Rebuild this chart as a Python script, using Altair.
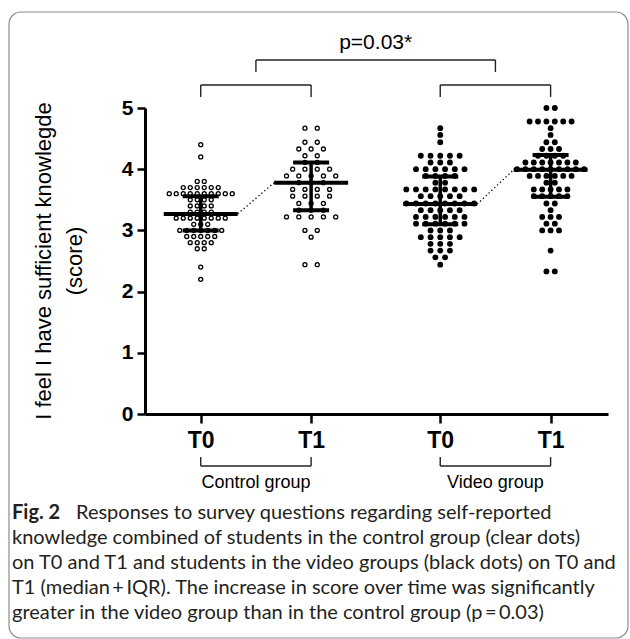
import altair as alt
import pandas as pd

# ---------------- data ----------------
GROUPS = ["Control group", "Video group"]
TIMES = ["T0", "T1"]

CTRL_T0_SCORES = [4.4, 4.2, 3.8, 3.7, 3.6, 3.5, 3.4, 3.3, 3.2, 3.1, 3.0, 2.9, 2.8, 2.7, 2.4, 2.2]
CTRL_T0_COUNTS = [1, 1, 2, 6, 10, 4, 4, 4, 8, 3, 7, 5, 4, 2, 1, 1]

CTRL_T1_SCORES = [4.67, 4.44, 4.33, 4.22, 4.11, 4.0, 3.89, 3.78, 3.67, 3.56, 3.44, 3.33, 3.22, 3.0, 2.89, 2.44]
CTRL_T1_COUNTS = [2, 2, 3, 2, 2, 4, 5, 3, 4, 4, 3, 3, 5, 2, 1, 2]

VIDEO_T0_SCORES = [4.67, 4.56, 4.44, 4.22, 4.11, 4.0, 3.89, 3.78, 3.67, 3.56, 3.44, 3.33, 3.22, 3.11,
                   3.0, 2.89, 2.78, 2.67, 2.56, 2.44]
VIDEO_T0_COUNTS = [1, 1, 1, 5, 3, 6, 4, 2, 8, 5, 8, 5, 6, 6, 3, 5, 3, 3, 2, 1]

VIDEO_T1_SCORES = [5.0, 4.78, 4.67, 4.56, 4.44, 4.33, 4.22, 4.11, 4.0, 3.89, 3.78, 3.67, 3.56, 3.44,
                   3.33, 3.22, 3.11, 3.0, 2.67, 2.33]
VIDEO_T1_COUNTS = [2, 6, 1, 1, 2, 3, 4, 7, 9, 6, 2, 5, 5, 2, 1, 3, 2, 3, 1, 2]

MEDIANS = [3.27, 3.78, 3.43, 3.99]
Q1 = [3.0, 3.33, 3.1, 3.55]
Q3 = [3.56, 4.11, 3.88, 4.23]

Y_TICKS = [0, 1, 2, 3, 4, 5]
Y_TITLE = ["I feel I have sufficient knowlegde", "(score)"]
P_LABEL = "p=0.03*"
FIG_LABEL = "Fig. 2"
CAPTION_LINES = [
    "Responses to survey questions regarding self-reported",
    "knowledge combined of students in the control group (clear dots)",
    "on T0 and T1 and students in the video groups (black dots) on T0 and",
    "T1 (median\u2009+\u2009IQR). The increase in score over time was significantly",
    "greater in the video group than in the control group (p\u2009=\u20090.03)",
]

SCORES = [CTRL_T0_SCORES, CTRL_T1_SCORES, VIDEO_T0_SCORES, VIDEO_T1_SCORES]
COUNTS = [CTRL_T0_COUNTS, CTRL_T1_COUNTS, VIDEO_T0_COUNTS, VIDEO_T1_COUNTS]

# ---------------- layout / style ----------------
CW, CH = 630, 639
LEFT, TOP = 145, 108
W, H = 463, 306
X_MIN, X_MAX = -0.505, 3.69
GROUP_STEP = 2.17
PX = W / (X_MAX - X_MIN)
COL_SPACING_PX = [7.0, 12.3, 9.7, 8.4]
MED_HALF = 37 / PX
IQR_HALF = 18 / PX
FONT = "Liberation Sans"
CAP_FONT = "Lato"
CAP_SIZE = 20

XS = alt.Scale(domain=[X_MIN, X_MAX], nice=False, zero=False)
YS = alt.Scale(domain=[0, 5], nice=False)


def pos(k):
    g, t = divmod(k, 2)
    return g * GROUP_STEP + t


TICK_POS = [pos(k) for k in range(4)]
label_expr = " : ".join(
    f"datum.value < {TICK_POS[k] + 0.5:.3f} ? '{TIMES[k % 2]}'" for k in range(3)
) + f" : '{TIMES[1]}'"

# point table with a simple centred-row dot layout
rows = []
for k in range(4):
    g, t = divmod(k, 2)
    sp = COL_SPACING_PX[k] / PX
    for s, n in zip(SCORES[k], COUNTS[k]):
        for i in range(n):
            rows.append(dict(group=GROUPS[g], time=TIMES[t], score=s,
                             x=pos(k) + (i - (n - 1) / 2) * sp))
pts = pd.DataFrame(rows)

summ = pd.DataFrame(dict(
    pos=TICK_POS, med=MEDIANS, q1=Q1, q3=Q3,
    med_lo=[p - MED_HALF for p in TICK_POS], med_hi=[p + MED_HALF for p in TICK_POS],
    iqr_lo=[p - IQR_HALF for p in TICK_POS], iqr_hi=[p + IQR_HALF for p in TICK_POS],
))

conn = pd.DataFrame(dict(
    x0=[pos(0) + MED_HALF, pos(2) + MED_HALF], x1=[pos(1) - MED_HALF, pos(3) - MED_HALF],
    y0=[MEDIANS[0], MEDIANS[2]], y1=[MEDIANS[1], MEDIANS[3]],
))

grp = pd.DataFrame(dict(group=GROUPS, a=[pos(0), pos(2)], b=[pos(1), pos(3)],
                        mid=[(pos(0) + pos(1)) / 2, (pos(2) + pos(3)) / 2]))
big = pd.DataFrame(dict(a=[grp.mid[0]], b=[grp.mid[1]], mid=[(grp.mid[0] + grp.mid[1]) / 2],
                        label=[P_LABEL]))

x_axis = alt.Axis(values=TICK_POS, labelExpr=label_expr, title=None, grid=False,
                  domainWidth=3, domainColor="black", tickSize=9, tickWidth=2.5, tickColor="black",
                  labelFont=FONT, labelFontWeight="bold", labelFontSize=23, labelColor="black",
                  labelPadding=6, labelFlush=False)
y_axis = alt.Axis(values=Y_TICKS, format="d", title=None, grid=False,
                  domainWidth=3, domainColor="black", tickSize=8, tickWidth=2.5, tickColor="black",
                  labelFont=FONT, labelFontWeight="bold", labelFontSize=21, labelColor="black",
                  labelPadding=4)


def X(f):
    return alt.X(f, type="quantitative", scale=XS, axis=x_axis, title=None)


def Y(f):
    return alt.Y(f, type="quantitative", scale=YS, axis=y_axis, title=None)


open_pts = alt.Chart(pts[pts.group == GROUPS[0]]).mark_point(
    shape="circle", filled=True, fill="white", stroke="black", strokeWidth=1.3, size=16, opacity=1
).encode(x=X("x"), y=Y("score"))

fill_pts = alt.Chart(pts[pts.group == GROUPS[1]]).mark_circle(
    color="black", size=34, opacity=1
).encode(x=X("x"), y=Y("score"))

med_rule = alt.Chart(summ).mark_rule(color="black", strokeWidth=4).encode(
    x=X("med_lo"), x2="med_hi", y=Y("med"))
q1_rule = alt.Chart(summ).mark_rule(color="black", strokeWidth=4).encode(
    x=X("iqr_lo"), x2="iqr_hi", y=Y("q1"))
q3_rule = alt.Chart(summ).mark_rule(color="black", strokeWidth=4).encode(
    x=X("iqr_lo"), x2="iqr_hi", y=Y("q3"))
v_rule = alt.Chart(summ).mark_rule(color="black", strokeWidth=3.5).encode(
    x=X("pos"), y=Y("q1"), y2="q3")

conn_rule = alt.Chart(conn).mark_rule(color="black", strokeWidth=1.3, strokeDash=[1.3, 2.6]).encode(
    x=X("x0"), x2="x1", y=Y("y0"), y2="y1")

BR = dict(color="#222222", strokeWidth=1.4)
# small brackets above each group
sb_h = alt.Chart(grp).mark_rule(**BR).encode(x=X("a"), x2="b", y=alt.value(-23))
sb_l = alt.Chart(grp).mark_rule(**BR).encode(x=X("a"), y=alt.value(-23), y2=alt.value(-11))
sb_r = alt.Chart(grp).mark_rule(**BR).encode(x=X("b"), y=alt.value(-23), y2=alt.value(-11))
# big bracket
bb_h = alt.Chart(big).mark_rule(**BR).encode(x=X("a"), x2="b", y=alt.value(-48))
bb_l = alt.Chart(big).mark_rule(**BR).encode(x=X("a"), y=alt.value(-48), y2=alt.value(-36))
bb_r = alt.Chart(big).mark_rule(**BR).encode(x=X("b"), y=alt.value(-48), y2=alt.value(-36))
p_txt = alt.Chart(big).mark_text(font=FONT, fontSize=21, color="black", baseline="middle",
                                 align="center").encode(x=X("mid"), y=alt.value(-65), text="label")
# brackets below the axis
gb_h = alt.Chart(grp).mark_rule(**BR).encode(x=X("a"), x2="b", y=alt.value(358))
gb_l = alt.Chart(grp).mark_rule(**BR).encode(x=X("a"), y=alt.value(349), y2=alt.value(358))
gb_r = alt.Chart(grp).mark_rule(**BR).encode(x=X("b"), y=alt.value(349), y2=alt.value(358))
g_txt = alt.Chart(grp).mark_text(font=FONT, fontSize=18, color="black", baseline="middle",
                                 align="center").encode(x=X("mid"), y=alt.value(374.5), text="group")

# y-axis title (two rotated lines)
ytitle = []
for txt, cx in zip(Y_TITLE, [44, 75]):
    ytitle.append(alt.Chart(pd.DataFrame({"t": [txt]})).mark_text(
        font=FONT, fontSize=22, color="black", angle=270, align="center", baseline="middle"
    ).encode(x=alt.value(cx - LEFT), y=alt.value(261 - TOP), text="t"))

# figure frame
frame = alt.Chart(pd.DataFrame({"a": [0]})).mark_rect(
    filled=False, stroke="#8c8c8c", strokeWidth=1.2, cornerRadius=12
).encode(x=alt.value(9 - LEFT), x2=alt.value(628 - LEFT), y=alt.value(12 - TOP), y2=alt.value(638 - TOP))

# caption
cap = []
cap.append(alt.Chart(pd.DataFrame({"t": [FIG_LABEL]})).mark_text(
    font=CAP_FONT, fontSize=CAP_SIZE, fontWeight="bold", color="#231f20", align="left", baseline="middle"
).encode(x=alt.value(12 - LEFT), y=alt.value(513 - TOP), text="t"))
for i, line in enumerate(CAPTION_LINES):
    x0 = 76 if i == 0 else 12
    cap.append(alt.Chart(pd.DataFrame({"t": [line]})).mark_text(
        font=CAP_FONT, fontSize=CAP_SIZE, color="#231f20", align="left", baseline="middle"
    ).encode(x=alt.value(x0 - LEFT), y=alt.value(513 + 25 * i - TOP), text="t"))

chart = alt.layer(
    open_pts, fill_pts, conn_rule, med_rule, q1_rule, q3_rule, v_rule,
    sb_h, sb_l, sb_r, bb_h, bb_l, bb_r, p_txt, gb_h, gb_l, gb_r, g_txt, *ytitle, *cap, frame
).properties(
    width=W, height=H, autosize="none",
    padding={"left": LEFT, "top": TOP, "right": CW - LEFT - W, "bottom": CH - TOP - H},
    background="white",
).configure_view(stroke=None)

chart.save("out.html", embed_options={"renderer": "svg", "actions": False})
